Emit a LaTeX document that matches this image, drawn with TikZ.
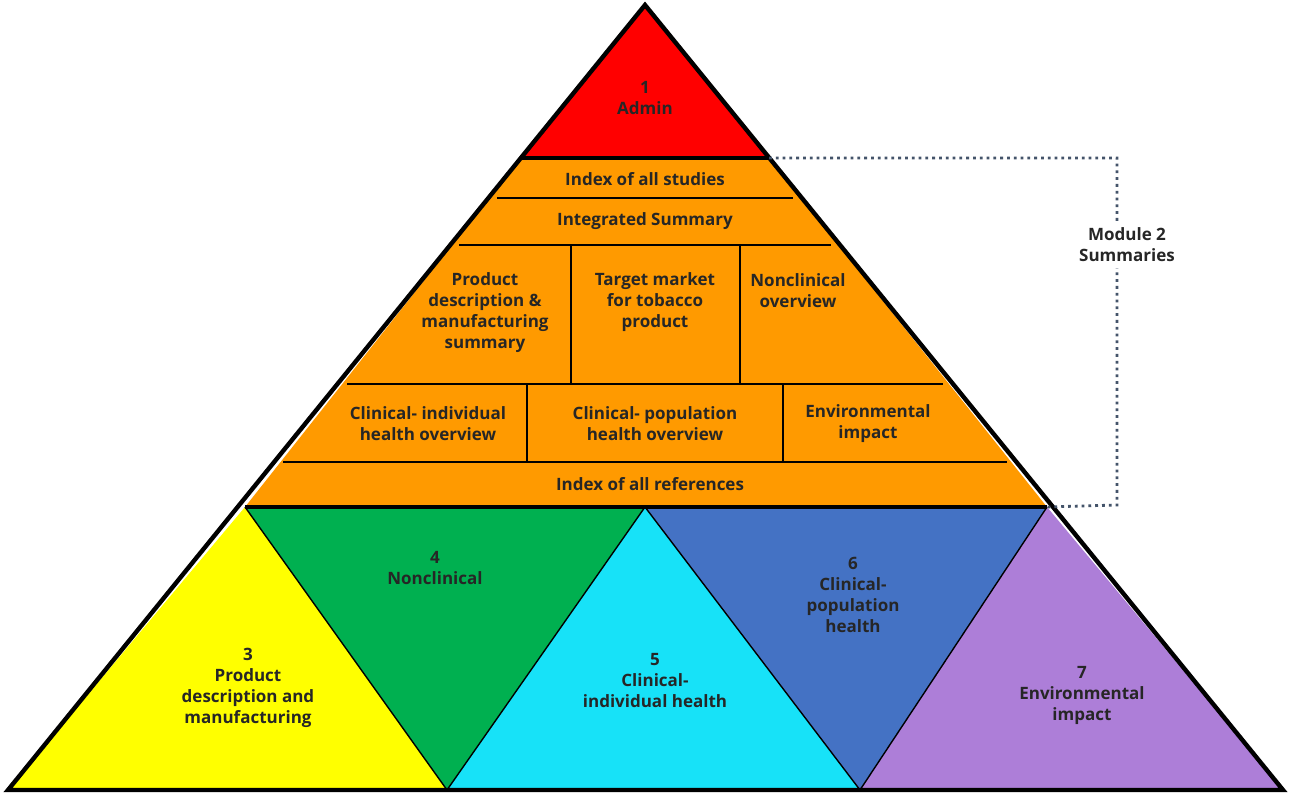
\documentclass[tikz,border=0pt]{standalone}
\usepackage{fontspec}
\setmainfont{Open Sans}
\definecolor{cred}{HTML}{FF0000}
\definecolor{corange}{HTML}{FF9A00}
\definecolor{cyellow}{HTML}{FFFF00}
\definecolor{cgreen}{HTML}{00B050}
\definecolor{ccyan}{HTML}{17E2F8}
\definecolor{cblue}{HTML}{4472C4}
\definecolor{cpurple}{HTML}{AD7ED8}
\definecolor{cdot}{HTML}{44546A}
\begin{document}
\begin{tikzpicture}[x=0.5pt,y=-0.5pt,
  lbl/.style={font=\bfseries\fontsize{8.5}{10.5}\selectfont,align=center,text=black!85},
  thin/.style={line width=0.7pt},
  thick/.style={line width=1.6pt}]
\useasboundingbox (0,0) rectangle (1292,795);
\fill[white] (0,0) rectangle (1292,795);
% coordinates
\coordinate (A) at (645,5);
\coordinate (L) at (8,790);
\coordinate (R) at (1283,790);
\coordinate (al) at (521,158); \coordinate (ar) at (769,158);
\coordinate (bl) at (245,507); \coordinate (bm) at (645,507); \coordinate (br) at (1047,507);
\coordinate (g) at (447,790); \coordinate (c) at (860,790);
% fills
\fill[cred] (A) -- (ar) -- (al) -- cycle;
\fill[corange] (al) -- (ar) -- (br) -- (bl) -- cycle;
\fill[cyellow] (bl) -- (g) -- (L) -- cycle;
\fill[cgreen] (bl) -- (bm) -- (g) -- cycle;
\fill[ccyan] (bm) -- (c) -- (g) -- cycle;
\fill[cblue] (bm) -- (br) -- (c) -- cycle;
\fill[cpurple] (br) -- (R) -- (c) -- cycle;
% orange internal lines
\draw[thin] (497,198) -- (793,198);
\draw[thin] (459,245) -- (831,245);
\draw[thin] (347,384) -- (943,384);
\draw[thin] (283,462) -- (1007,462);
\draw[thin] (571,245) -- (571,384);
\draw[thin] (740,245) -- (740,384);
\draw[thin] (527,384) -- (527,462);
\draw[thin] (783,384) -- (783,462);
% lower lines
\draw[thin] (bl) -- (g) -- (bm) -- (c) -- (br);
\draw[thick] (al) -- (ar);
\draw[thick] (bl) -- (br);
\draw[line width=2.2pt,line join=miter] (A) -- (R) -- (L) -- cycle;
% dotted bracket
\draw[cdot,line width=1.4pt,dotted] (ar) -- (1117,158) -- (1117,505) -- (br);
% labels
\node[lbl,fill=white,inner sep=3pt] (m2) at (1127,245) {Module 2\\Summaries};
\node[lbl] (n1) at (645,98) {1\\Admin};
\node[lbl] (is) at (645,179) {Index of all studies};
\node[lbl] (ins) at (645,221) {Integrated Summary};
\node[lbl] (pd) at (485,313) {Product\\description \&\\manufacturing\\summary};
\node[lbl] (tm) at (655,302) {Target market\\for tobacco\\product};
\node[lbl] (nc) at (798,291) {Nonclinical\\overview};
\node[lbl] (ci) at (428,424) {Clinical- individual\\health overview};
\node[lbl] (cp) at (655,424) {Clinical- population\\health overview};
\node[lbl] (ei) at (868,424) {Environmental\\impact};
\node[lbl] (ir) at (650,484) {Index of all references};
\node[lbl] (n3) at (248,688) {3\\Product\\description and\\manufacturing};
\node[lbl] (n4) at (435,568) {4\\Nonclinical};
\node[lbl] (n5) at (655,681) {5\\Clinical-\\individual health};
\node[lbl] (n6) at (853,595) {6\\Clinical-\\population\\health};
\node[lbl] (n7) at (1082,695) {7\\Environmental\\impact};
\end{tikzpicture}
\end{document}
